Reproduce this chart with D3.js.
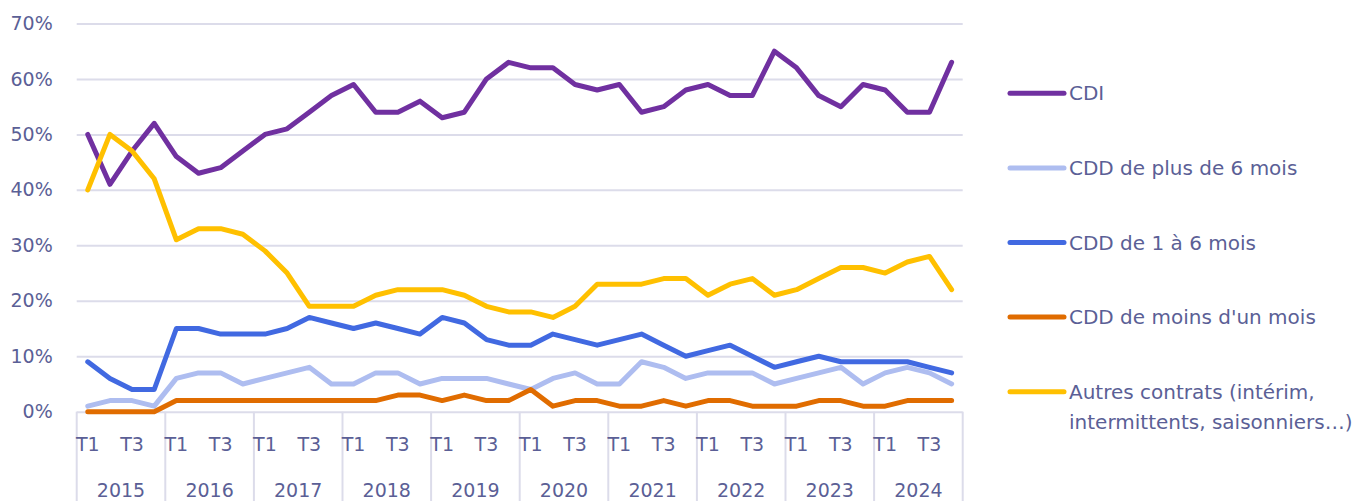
<!DOCTYPE html>
<html>
<head>
<meta charset="utf-8">
<script src="https://cdn.jsdelivr.net/npm/d3@7"></script>
<style>
  body { margin: 0; background: #fff; }
  svg { display: block; font-family: "DejaVu Sans", sans-serif; }
</style>
</head>
<body>
<svg id="chart" width="1355" height="501"></svg>
<script>
// years and quarter labels
var years = ["2015", "2016", "2017", "2018", "2019", "2020", "2021", "2022", "2023", "2024"];
var quarters = ["T1", "T2", "T3", "T4"];
var quarterLabels = ["T1", "", "T3", ""];
var yTicks = [0, 10, 20, 30, 40, 50, 60, 70];

// share of hires by contract type (%), one value per quarter
var cdi       = [50, 41, 47, 52, 46, 43, 44, 47, 50, 51, 54, 57, 59, 54, 54, 56, 53, 54, 60, 63,
                 62, 62, 59, 58, 59, 54, 55, 58, 59, 57, 57, 65, 62, 57, 55, 59, 58, 54, 54, 63];
var cddPlus6  = [1, 2, 2, 1, 6, 7, 7, 5, 6, 7, 8, 5, 5, 7, 7, 5, 6, 6, 6, 5,
                 4, 6, 7, 5, 5, 9, 8, 6, 7, 7, 7, 5, 6, 7, 8, 5, 7, 8, 7, 5];
var cdd1a6    = [9, 6, 4, 4, 15, 15, 14, 14, 14, 15, 17, 16, 15, 16, 15, 14, 17, 16, 13, 12,
                 12, 14, 13, 12, 13, 14, 12, 10, 11, 12, 10, 8, 9, 10, 9, 9, 9, 9, 8, 7];
var cddMoins1 = [0, 0, 0, 0, 2, 2, 2, 2, 2, 2, 2, 2, 2, 2, 3, 3, 2, 3, 2, 2,
                 4, 1, 2, 2, 1, 1, 2, 1, 2, 2, 1, 1, 1, 2, 2, 1, 1, 2, 2, 2];
var autres    = [40, 50, 47, 42, 31, 33, 33, 32, 29, 25, 19, 19, 19, 21, 22, 22, 22, 21, 19, 18,
                 18, 17, 19, 23, 23, 23, 24, 24, 21, 23, 24, 21, 22, 24, 26, 26, 25, 27, 28, 22];

var seriesNames = ["CDI", "CDD de plus de 6 mois", "CDD de 1 à 6 mois", "CDD de moins d'un mois",
                   "Autres contrats (intérim,|intermittents, saisonniers…)"];
var seriesColors = ["#7030a0", "#aebdf0", "#4169e1", "#e06c00", "#ffc000"];

var svg = d3.select("#chart"),
  MARGINS = { top: 23.5, left: 76.7, right: 962.7, bottom: 411.7 },
  TEXT = "#5b5f96",
  GRID = "#dcdcea";

var keys = [];
years.forEach(function (y) {
  quarters.forEach(function (q) { keys.push(y + "-" + q); });
});

var x = d3.scalePoint()
  .domain(keys)
  .range([MARGINS.left, MARGINS.right])
  .padding(0.5);

var yearScale = d3.scaleBand()
  .domain(years)
  .range([MARGINS.left, MARGINS.right]);

var y = d3.scaleLinear()
  .domain([0, 70])
  .range([MARGINS.bottom, MARGINS.top]);

// horizontal grid + y labels
var yAxis = svg.append("g")
  .attr("transform", "translate(" + MARGINS.left + ",0)")
  .call(d3.axisLeft(y).tickValues(yTicks)
    .tickSize(-(MARGINS.right - MARGINS.left))
    .tickPadding(24)
    .tickFormat(function (d) { return d + "%"; }))
  .call(g => g.select(".domain").remove());
yAxis.selectAll("line").attr("stroke", GRID).attr("stroke-width", 2);
yAxis.selectAll("text").attr("fill", TEXT).style("font-size", "19px")
  .style("font-family", "'DejaVu Sans', sans-serif");

// year separators below the axis
var sepX = years.map(function (yr) { return yearScale(yr); }).concat([MARGINS.right]);
svg.append("g").selectAll("line")
  .data(sepX)
  .join("line")
  .attr("x1", d => d).attr("x2", d => d)
  .attr("y1", MARGINS.bottom).attr("y2", 501)
  .attr("stroke", GRID).attr("stroke-width", 2);

// quarter labels
svg.append("g").selectAll("text")
  .data(keys.filter((k, i) => quarterLabels[i % 4] !== ""))
  .join("text")
  .attr("x", d => x(d))
  .attr("y", 444)
  .attr("dy", "0.35em")
  .attr("text-anchor", "middle")
  .attr("fill", TEXT)
  .style("font-size", "19px")
  .text(d => d.split("-")[1]);

// year labels
svg.append("g").selectAll("text")
  .data(years)
  .join("text")
  .attr("x", d => yearScale(d) + yearScale.bandwidth() / 2)
  .attr("y", 490.5)
  .attr("dy", "0.35em")
  .attr("text-anchor", "middle")
  .attr("fill", TEXT)
  .style("font-size", "19px")
  .text(d => d);

// lines
var allSeries = [cdi, cddPlus6, cdd1a6, cddMoins1, autres];
var lineFunc = d3.line()
  .x(function (d, i) { return x(keys[i]); })
  .y(function (d) { return y(d); });

allSeries.forEach(function (values, s) {
  svg.append("path")
    .attr("d", lineFunc(values))
    .attr("stroke", seriesColors[s])
    .attr("stroke-width", 5)
    .attr("stroke-linejoin", "round")
    .attr("stroke-linecap", "round")
    .attr("fill", "none");
});

// legend
var legend = svg.append("g");
seriesNames.forEach(function (name, i) {
  var ly = 93.3 + i * 74.6;
  legend.append("line")
    .attr("x1", 1010).attr("x2", 1064)
    .attr("y1", ly).attr("y2", ly)
    .attr("stroke", seriesColors[i])
    .attr("stroke-width", 5)
    .attr("stroke-linecap", "round");
  var t = legend.append("text")
    .attr("x", 1069)
    .attr("y", ly)
    .attr("fill", TEXT)
    .style("font-size", "20px");
  name.split("|").forEach(function (part, j) {
    t.append("tspan")
      .attr("x", 1069)
      .attr("dy", j === 0 ? "0.35em" : "1.5em")
      .text(part);
  });
});
</script>
</body>
</html>
